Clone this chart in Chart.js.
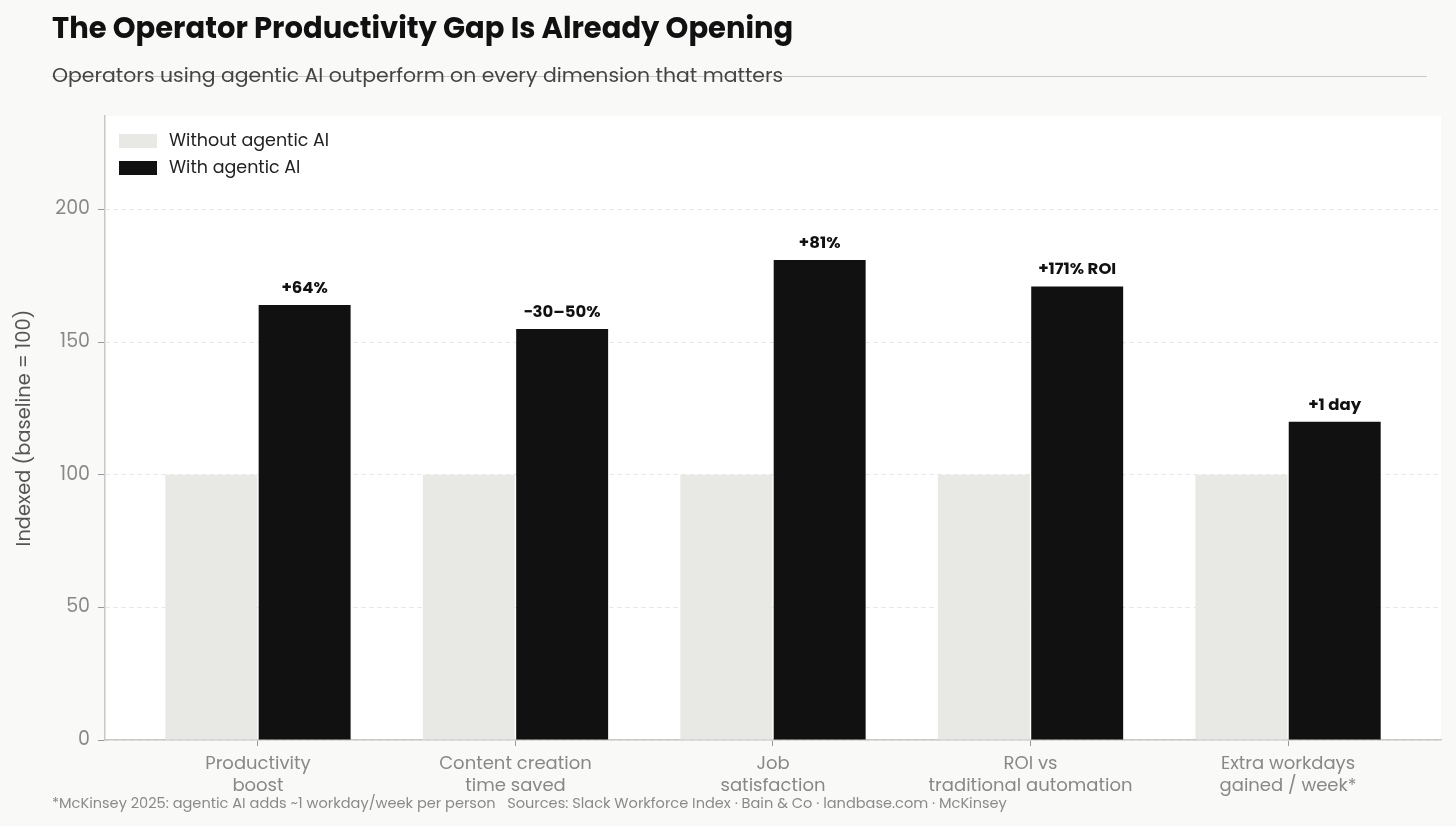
<!DOCTYPE html>
<html>
<head>
<meta charset="utf-8">
<script src="https://cdn.jsdelivr.net/npm/chart.js@4.4.1/dist/chart.umd.min.js"></script>
<style>
  html, body { margin: 0; padding: 0; background: #f9f9f7; }
  body { width: 1456px; height: 826px; position: relative; overflow: hidden;
         font-family: Poppins, Inter, sans-serif; }
  #wrap { position: absolute; left: 0; top: 0; width: 1456px; height: 826px; }
  .title { position: absolute; left: 52px; top: 7px; font-size: 29px; font-weight: 700; color: #111; white-space: nowrap; }
  .subtitle { position: absolute; left: 52px; top: 60px; font-size: 20.4px; color: #444; white-space: nowrap; }
  .rule { position: absolute; left: 52px; top: 76px; width: 1375px; height: 0; border-top: 1.5px solid #c8c8c8; }
  .foot { position: absolute; left: 52px; top: 793px; font-size: 14.55px; color: #8a8a8a; white-space: nowrap; }
</style>
</head>
<body>
<div id="wrap"><canvas id="gapChart" width="1456" height="826"></canvas></div>
<div class="rule"></div>
<div class="title">The Operator Productivity Gap Is Already Opening</div>
<div class="subtitle">Operators using agentic AI outperform on every dimension that matters</div>
<div class="foot">*McKinsey 2025: agentic AI adds ~1 workday/week per person&nbsp;&nbsp;&nbsp;Sources: Slack Workforce Index · Bain &amp; Co · landbase.com · McKinsey</div>
<script>
const categories = [
    ['Productivity', 'boost'],
    ['Content creation', 'time saved'],
    ['Job', 'satisfaction'],
    ['ROI vs', 'traditional automation'],
    ['Extra workdays', 'gained / week*']
];
const withoutAI = [100, 100, 100, 100, 100];
const withAI = [164, 155, 181, 171, 120];
const gapLabels = ['+64%', '\u221230\u201350%', '+81%', '+171% ROI', '+1 day'];
const yTicks = [0, 50, 100, 150, 200];

const FONT = 'Poppins, Inter, sans-serif';

// white plot background behind the bars
const plotBackground = {
    id: 'plotBackground',
    beforeDraw(chart) {
        const { ctx, chartArea: a } = chart;
        ctx.save();
        ctx.fillStyle = '#ffffff';
        ctx.fillRect(a.left, a.top, a.right - a.left, a.bottom - a.top);
        ctx.restore();
    }
};

// value labels above the "with" bars
const gapLabelPlugin = {
    id: 'gapLabels',
    afterDatasetsDraw(chart) {
        const { ctx } = chart;
        const meta = chart.getDatasetMeta(1);
        ctx.save();
        ctx.font = '700 16.5px ' + FONT;
        ctx.fillStyle = '#111';
        ctx.textAlign = 'center';
        ctx.textBaseline = 'bottom';
        meta.data.forEach((bar, i) => {
            ctx.fillText(gapLabels[i], bar.x, bar.y - 8);
        });
        ctx.restore();
    }
};

// legend in the top-left corner of the plot
const cornerLegend = {
    id: 'cornerLegend',
    afterDraw(chart) {
        const { ctx, chartArea: a } = chart;
        ctx.save();
        ctx.font = '17.5px ' + FONT;
        ctx.textBaseline = 'middle';
        ctx.textAlign = 'left';
        chart.data.datasets.forEach((ds, i) => {
            const cy = a.top + 25 + i * 27;
            ctx.fillStyle = ds.backgroundColor;
            ctx.fillRect(a.left + 14, cy - 7, 38, 14);
            ctx.fillStyle = '#222';
            ctx.fillText(ds.label, a.left + 64, cy + 1);
        });
        ctx.restore();
    }
};

const ctx = document.getElementById('gapChart').getContext('2d');

new Chart(ctx, {
    type: 'bar',
    data: {
        datasets: [{
            label: 'Without agentic AI',
            data: withoutAI.map((v, i) => ({ x: i, y: v })),
            backgroundColor: '#e8e8e4',
            categoryPercentage: 0.725,
            barPercentage: 0.985
        }, {
            label: 'With agentic AI',
            data: withAI.map((v, i) => ({ x: i, y: v })),
            backgroundColor: '#111111',
            categoryPercentage: 0.725,
            barPercentage: 0.985
        }]
    },
    options: {
        responsive: false,
        animation: false,
        layout: { padding: { top: 116, left: 0, right: 15, bottom: 16 } },
        plugins: {
            tooltip: { enabled: false },
            legend: { display: false }
        },
        scales: {
            x: {
                type: 'linear',
                offset: false,
                min: -0.594,
                max: 4.594,
                afterBuildTicks: s => { s.ticks = categories.map((c, i) => ({ value: i })); },
                afterFit: s => { s.height = 70; },
                ticks: {
                    autoSkip: false,
                    maxRotation: 0,
                    padding: 8,
                    color: '#888',
                    font: { family: FONT, size: 18 },
                    callback: v => categories[v]
                },
                grid: {
                    offset: false,
                    drawOnChartArea: false,
                    drawTicks: true,
                    tickLength: 6,
                    tickColor: '#999'
                },
                border: { color: '#c8c8c8', width: 1.5 }
            },
            y: {
                min: 0,
                max: 235.3,
                afterBuildTicks: s => { s.ticks = yTicks.map(v => ({ value: v })); },
                afterFit: s => { s.width = 105; },
                ticks: {
                    padding: 8,
                    color: '#888',
                    font: { family: FONT, size: 19 }
                },
                grid: {
                    color: '#e6e6e6',
                    tickColor: '#999',
                    tickLength: 7,
                    tickBorderDash: []
                },
                border: { color: '#c8c8c8', width: 1.5, dash: [4, 4] },
                title: {
                    display: true,
                    text: 'Indexed (baseline = 100)',
                    color: '#555',
                    font: { family: FONT, size: 19.4 },
                    padding: { top: 14, bottom: 0 }
                }
            }
        }
    },
    plugins: [plotBackground, gapLabelPlugin, cornerLegend]
});
</script>
</body>
</html>
